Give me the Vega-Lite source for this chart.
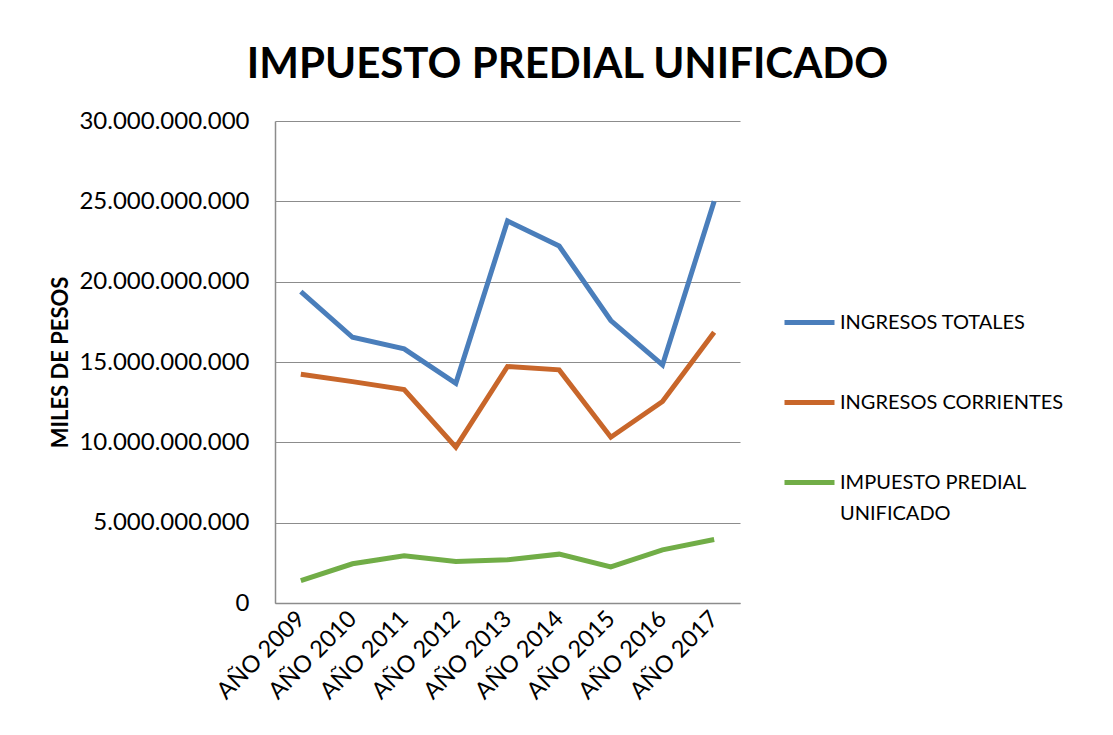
{
  "$schema": "https://vega.github.io/schema/vega-lite/v6.json",
  "width": 465,
  "height": 482,
  "autosize": {"type": "none"},
  "padding": {"left": 275, "top": 121, "right": 373, "bottom": 132},
  "background": "white",
  "title": {
    "text": "IMPUESTO PREDIAL UNIFICADO",
    "font": "Lato",
    "fontSize": 42,
    "fontWeight": "bold",
    "color": "#000000",
    "anchor": "middle",
    "dx": 60,
    "offset": 22
  },
  "data": {
    "values": [
      {"anio": "AÑO 2009", "serie": "INGRESOS TOTALES", "valor": 19380000000},
      {"anio": "AÑO 2010", "serie": "INGRESOS TOTALES", "valor": 16540000000},
      {"anio": "AÑO 2011", "serie": "INGRESOS TOTALES", "valor": 15820000000},
      {"anio": "AÑO 2012", "serie": "INGRESOS TOTALES", "valor": 13680000000},
      {"anio": "AÑO 2013", "serie": "INGRESOS TOTALES", "valor": 23780000000},
      {"anio": "AÑO 2014", "serie": "INGRESOS TOTALES", "valor": 22220000000},
      {"anio": "AÑO 2015", "serie": "INGRESOS TOTALES", "valor": 17580000000},
      {"anio": "AÑO 2016", "serie": "INGRESOS TOTALES", "valor": 14820000000},
      {"anio": "AÑO 2017", "serie": "INGRESOS TOTALES", "valor": 25000000000},
      {"anio": "AÑO 2009", "serie": "INGRESOS CORRIENTES", "valor": 14240000000},
      {"anio": "AÑO 2010", "serie": "INGRESOS CORRIENTES", "valor": 13780000000},
      {"anio": "AÑO 2011", "serie": "INGRESOS CORRIENTES", "valor": 13290000000},
      {"anio": "AÑO 2012", "serie": "INGRESOS CORRIENTES", "valor": 9700000000},
      {"anio": "AÑO 2013", "serie": "INGRESOS CORRIENTES", "valor": 14720000000},
      {"anio": "AÑO 2014", "serie": "INGRESOS CORRIENTES", "valor": 14510000000},
      {"anio": "AÑO 2015", "serie": "INGRESOS CORRIENTES", "valor": 10320000000},
      {"anio": "AÑO 2016", "serie": "INGRESOS CORRIENTES", "valor": 12540000000},
      {"anio": "AÑO 2017", "serie": "INGRESOS CORRIENTES", "valor": 16850000000},
      {"anio": "AÑO 2009", "serie": "IMPUESTO PREDIAL UNIFICADO", "valor": 1400000000},
      {"anio": "AÑO 2010", "serie": "IMPUESTO PREDIAL UNIFICADO", "valor": 2440000000},
      {"anio": "AÑO 2011", "serie": "IMPUESTO PREDIAL UNIFICADO", "valor": 2940000000},
      {"anio": "AÑO 2012", "serie": "IMPUESTO PREDIAL UNIFICADO", "valor": 2580000000},
      {"anio": "AÑO 2013", "serie": "IMPUESTO PREDIAL UNIFICADO", "valor": 2690000000},
      {"anio": "AÑO 2014", "serie": "IMPUESTO PREDIAL UNIFICADO", "valor": 3040000000},
      {"anio": "AÑO 2015", "serie": "IMPUESTO PREDIAL UNIFICADO", "valor": 2250000000},
      {"anio": "AÑO 2016", "serie": "IMPUESTO PREDIAL UNIFICADO", "valor": 3310000000},
      {"anio": "AÑO 2017", "serie": "IMPUESTO PREDIAL UNIFICADO", "valor": 3950000000}
    ]
  },
  "mark": {"type": "line", "strokeWidth": 5, "strokeCap": "butt", "strokeJoin": "miter"},
  "encoding": {
    "x": {
      "field": "anio",
      "type": "nominal",
      "sort": null,
      "scale": {"type": "point", "padding": 0.5},
      "axis": {
        "title": null,
        "labelAngle": -45,
        "labelAlign": "right",
        "labelBaseline": "middle",
        "labelPadding": 12,
        "labelFont": "Lato",
        "labelFontSize": 23.5,
        "labelColor": "#000000",
        "ticks": false,
        "domainColor": "#8c8c8c",
        "domainWidth": 1.5,
        "grid": false
      }
    },
    "y": {
      "field": "valor",
      "type": "quantitative",
      "scale": {"domain": [0, 30000000000], "nice": false},
      "axis": {
        "values": [0, 5000000000, 10000000000, 15000000000, 20000000000, 25000000000, 30000000000],
        "format": ",.0f",
        "title": "MILES DE PESOS",
        "titleFont": "Lato",
        "titleFontSize": 22,
        "titleFontWeight": "bold",
        "titleColor": "#000000",
        "titleX": -215,
        "titleY": 241,
        "titleAngle": 270,
        "titleAlign": "center",
        "titleBaseline": "middle",
        "labelFont": "Lato",
        "labelFontSize": 24,
        "labelColor": "#000000",
        "labelPadding": 26,
        "ticks": false,
        "domainColor": "#8c8c8c",
        "domainWidth": 1.5,
        "grid": true,
        "gridColor": "#8c8c8c",
        "gridWidth": 1.2
      }
    },
    "color": {
      "field": "serie",
      "type": "nominal",
      "sort": ["INGRESOS TOTALES", "INGRESOS CORRIENTES", "IMPUESTO PREDIAL UNIFICADO"],
      "scale": {
        "domain": ["INGRESOS TOTALES", "INGRESOS CORRIENTES", "IMPUESTO PREDIAL UNIFICADO"],
        "range": ["#4A7EBB", "#C8662A", "#71AD47"]
      },
      "legend": {
        "title": null,
        "orient": "none",
        "legendX": 507,
        "legendY": 174,
        "symbolType": "stroke",
        "symbolSize": 2500,
        "symbolStrokeWidth": 5,
        "labelFont": "Lato",
        "labelFontSize": 20,
        "labelColor": "#000000",
        "labelOffset": 3,
        "labelLimit": 300,
        "rowPadding": 42,
        "labelExpr": "datum.label == 'IMPUESTO PREDIAL UNIFICADO' ? ['IMPUESTO PREDIAL', 'UNIFICADO'] : datum.label",
        "encode": {
          "labels": {
            "update": {
              "lineHeight": {"value": 31}
            }
          }
        }
      }
    }
  },
  "config": {
    "locale": {
      "number": {"decimal": ",", "thousands": ".", "grouping": [3], "currency": ["$", ""]}
    },
    "view": {"stroke": null}
  }
}
